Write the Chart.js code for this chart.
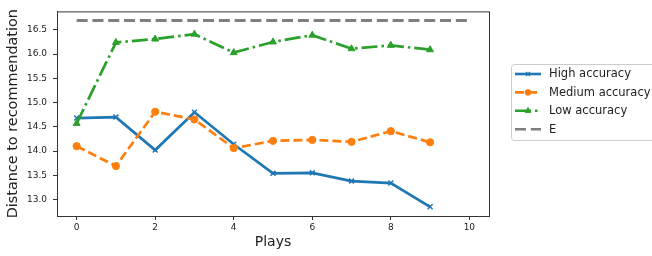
<!DOCTYPE html>
<html>
<head>
<meta charset="utf-8">
<script src="https://cdn.jsdelivr.net/npm/chart.js@4"></script>
<style>
  html, body { margin: 0; padding: 0; background: #fff; }
  #wrap { width: 652px; height: 256px; position: relative; }
</style>
</head>
<body>
<div id="wrap"><canvas id="chart" width="652" height="256"></canvas></div>
<script>
const plays = [0, 1, 2, 3, 4, 5, 6, 7, 8, 9];
const highAcc = [14.68, 14.70, 14.02, 14.80, 14.14, 13.54, 13.55, 13.38, 13.34, 12.85];
const mediumAcc = [14.10, 13.69, 14.81, 14.65, 14.06, 14.21, 14.23, 14.19, 14.41, 14.18];
const lowAcc = [14.57, 16.24, 16.31, 16.41, 16.03, 16.25, 16.39, 16.11, 16.18, 16.09];
const eX = [0, 10];
const eY = [16.69, 16.69];
const xTicks = [0, 2, 4, 6, 8, 10];
const yTicks = [13.0, 13.5, 14.0, 14.5, 15.0, 15.5, 16.0, 16.5];

const FONT = "'DejaVu Sans', sans-serif";

function pts(xs, ys) {
  return xs.map((x, i) => ({ x: x, y: ys[i] }));
}

const series = [
  { label: "High accuracy", data: pts(plays, highAcc), color: "#1f77b4", dash: [], marker: "crossRot", r: 3.5 },
  { label: "Medium accuracy", data: pts(plays, mediumAcc), color: "#ff7f0e", dash: [9, 4], marker: "circle", r: 3.6 },
  { label: "Low accuracy", data: pts(plays, lowAcc), color: "#2ca02c", dash: [16, 4, 2.5, 4], marker: "triangle", r: 4 },
  { label: "E", data: pts(eX, eY), color: "#7f7f7f", dash: [11, 4.8], marker: false, r: 0 },
];

// frame around the plot area (matplotlib spines)
const framePlugin = {
  id: "frame",
  afterDraw(chart) {
    const { ctx, chartArea: a } = chart;
    ctx.save();
    ctx.strokeStyle = "#333";
    ctx.lineWidth = 1;
    ctx.strokeRect(a.left + 0.5, a.top + 0.5, a.right - a.left, a.bottom - a.top);
    ctx.restore();
  },
};

// legend box outside the axes on the right
const legendPlugin = {
  id: "boxLegend",
  afterDraw(chart) {
    const ctx = chart.ctx;
    const x0 = 511.5, y0 = 64.5, w = 150, h = 76;
    ctx.save();
    ctx.fillStyle = "rgba(255,255,255,0.8)";
    ctx.strokeStyle = "#cccccc";
    ctx.lineWidth = 1;
    ctx.beginPath();
    ctx.roundRect(x0, y0, w, h, 3);
    ctx.fill();
    ctx.stroke();
    ctx.font = "11.5px " + FONT;
    ctx.textBaseline = "middle";
    series.forEach((s, i) => {
      const y = 74 + i * 18.4;
      ctx.strokeStyle = s.color;
      ctx.fillStyle = s.color;
      ctx.lineWidth = 2.6;
      ctx.setLineDash(s.dash);
      ctx.beginPath();
      ctx.moveTo(515, y);
      ctx.lineTo(541, y);
      ctx.stroke();
      ctx.setLineDash([]);
      if (s.marker) {
        ctx.lineWidth = s.marker === "crossRot" ? 1.3 : 1;
        Chart.helpers.drawPoint(ctx, {
          pointStyle: s.marker,
          radius: s.r * 0.8,
          borderWidth: ctx.lineWidth,
        }, 528, y);
      }
      ctx.fillStyle = "#222";
      ctx.fillText(s.label, 549, y + 0.5);
    });
    ctx.restore();
  },
};

new Chart(document.getElementById("chart"), {
  type: "line",
  data: {
    datasets: series.map((s, i) => ({
      label: s.label,
      data: s.data,
      borderColor: s.color,
      backgroundColor: s.color,
      borderWidth: s.label === "E" ? 3 : 2.7,
      borderDash: s.dash,
      pointStyle: s.marker,
      pointRadius: s.r,
      pointBorderWidth: s.marker === "crossRot" ? 1.5 : 1,
      pointBackgroundColor: s.color,
      pointBorderColor: s.color,
      tension: 0,
      fill: false,
      order: series.length - i,
    })),
  },
  options: {
    responsive: false,
    animation: false,
    layout: { padding: { top: 5, right: 163, left: 0, bottom: 0 } },
    plugins: {
      legend: { display: false },
      tooltip: { enabled: false },
    },
    scales: {
      x: {
        type: "linear",
        min: -0.5,
        max: 10.5,
        afterBuildTicks: (scale) => {
          scale.ticks = xTicks.map((v) => ({ value: v }));
        },
        afterFit: (scale) => {
          scale.height = 40;
        },
        grid: { drawOnChartArea: false, drawTicks: true, tickLength: 4, color: "#333" },
        border: { display: true, color: "#333" },
        ticks: {
          font: { family: FONT, size: 9 },
          color: "#222",
          padding: 2,
          maxRotation: 0,
          callback: (v) => String(v),
        },
        title: {
          display: true,
          text: "Plays",
          font: { family: FONT, size: 14 },
          color: "#222",
          padding: { top: 0, bottom: 5 },
        },
      },
      y: {
        min: 12.66,
        max: 16.88,
        afterBuildTicks: (scale) => {
          scale.ticks = yTicks.map((v) => ({ value: v }));
        },
        afterFit: (scale) => {
          scale.width = 57;
        },
        grid: { drawOnChartArea: false, drawTicks: true, tickLength: 4, color: "#333" },
        border: { display: true, color: "#333" },
        ticks: {
          font: { family: FONT, size: 9 },
          color: "#222",
          padding: 6,
          callback: (v) => Number(v).toFixed(1),
        },
        title: {
          display: true,
          text: "Distance to recommendation",
          font: { family: FONT, size: 14.4 },
          color: "#222",
          padding: { top: 5, bottom: 0 },
        },
      },
    },
  },
  plugins: [framePlugin, legendPlugin],
});
</script>
</body>
</html>
